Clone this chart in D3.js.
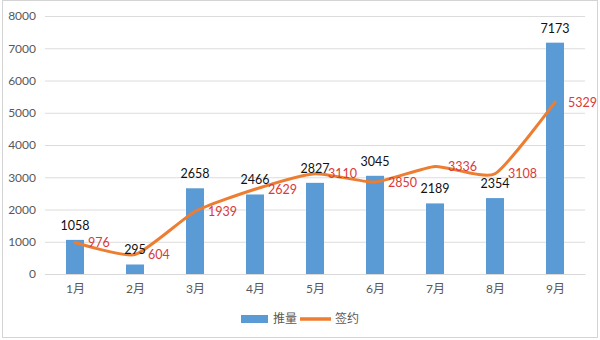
<!DOCTYPE html>
<html>
<head>
<meta charset="utf-8">
<script src="https://cdn.jsdelivr.net/npm/d3@7"></script>
<style>
  html, body { margin: 0; padding: 0; background: #fff; }
  svg { display: block; font-family: Lato, "Noto Sans CJK SC", sans-serif; }
</style>
</head>
<body>
<svg id="chart" width="600" height="340"></svg>
<script>
// Monthly figures
const months = ["1月", "2月", "3月", "4月", "5月", "6月", "7月", "8月", "9月"];
const supply = [1058, 295, 2658, 2466, 2827, 3045, 2189, 2354, 7173];   // 推量
const signed = [976, 604, 1939, 2629, 3110, 2850, 3336, 3108, 5329];    // 签约
const yTicks = [0, 1000, 2000, 3000, 4000, 5000, 6000, 7000, 8000];
const seriesNames = ["推量", "签约"];

const barColor = "#5B9BD5";
const lineColor = "#ED7D31";

const svg = d3.select("#chart");

// outer frame
svg.append("rect")
  .attr("x", 2.5).attr("y", 0.5)
  .attr("width", 595).attr("height", 337)
  .attr("fill", "#fff")
  .attr("stroke", "#d4d4d4")
  .attr("stroke-width", 1);

const xc = d3.scalePoint().domain(months).range([45, 585]).padding(0.5);
const y = d3.scaleLinear().domain([0, 8000]).range([274, 16]);

// gridlines + y labels
const yAxis = d3.axisLeft(y).tickValues(yTicks).tickSize(-540).tickPadding(9).tickFormat(d3.format("d"));
const gy = svg.append("g").attr("transform", "translate(45,0)").call(yAxis);
gy.select(".domain").remove();
gy.selectAll(".tick line").attr("stroke", "#dcdcdc").attr("stroke-width", 1);
gy.selectAll(".tick text")
  .attr("fill", "#595959").attr("font-size", 12)
  .attr("font-family", "Lato, sans-serif");

// x axis
const xAxis = d3.axisBottom(xc).tickSize(0).tickPadding(10);
const gx = svg.append("g").attr("transform", "translate(0,274)").call(xAxis);
gx.select(".domain").attr("stroke", "#d9d9d9");
gx.selectAll(".tick text")
  .attr("fill", "#595959").attr("font-size", 12)
  .attr("font-family", "Lato, 'Noto Sans CJK SC', sans-serif");

// bars
const bw = 18;
svg.append("g").selectAll("rect")
  .data(supply)
  .join("rect")
  .attr("x", (d, i) => xc(months[i]) - bw / 2)
  .attr("y", d => y(d))
  .attr("width", bw)
  .attr("height", d => y(0) - y(d))
  .attr("fill", barColor);

// smoothed line
const line = d3.line()
  .x((d, i) => xc(months[i]))
  .y(d => y(d))
  .curve(d3.curveCardinal.tension(0.45));
svg.append("path")
  .datum(signed)
  .attr("d", line)
  .attr("fill", "none")
  .attr("stroke", lineColor)
  .attr("stroke-width", 3)
  .attr("stroke-linejoin", "round")
  .attr("stroke-linecap", "round");

// bar value labels
svg.append("g").selectAll("text")
  .data(supply)
  .join("text")
  .attr("x", (d, i) => xc(months[i]))
  .attr("y", d => y(d) - 10)
  .attr("text-anchor", "middle")
  .attr("font-size", 12.5)
  .attr("fill", "#111")
  .text(d => d);

// line value labels
svg.append("g").selectAll("text")
  .data(signed)
  .join("text")
  .attr("x", (d, i) => xc(months[i]) + 13)
  .attr("y", d => y(d))
  .attr("dy", "0.36em")
  .attr("font-size", 12.5)
  .attr("fill", "#D93A3A")
  .text(d => d);

// legend
const lg = svg.append("g").attr("font-family", "'Noto Sans CJK SC', sans-serif").attr("font-size", 12).attr("fill", "#595959");
lg.append("rect").attr("x", 241).attr("y", 315).attr("width", 27).attr("height", 8).attr("fill", barColor);
lg.append("text").attr("x", 273).attr("y", 319).attr("dy", "0.36em").text(seriesNames[0]);
lg.append("line").attr("x1", 300).attr("x2", 331).attr("y1", 319).attr("y2", 319)
  .attr("stroke", lineColor).attr("stroke-width", 3.5);
lg.append("text").attr("x", 335).attr("y", 319).attr("dy", "0.36em").text(seriesNames[1]);
</script>
</body>
</html>
